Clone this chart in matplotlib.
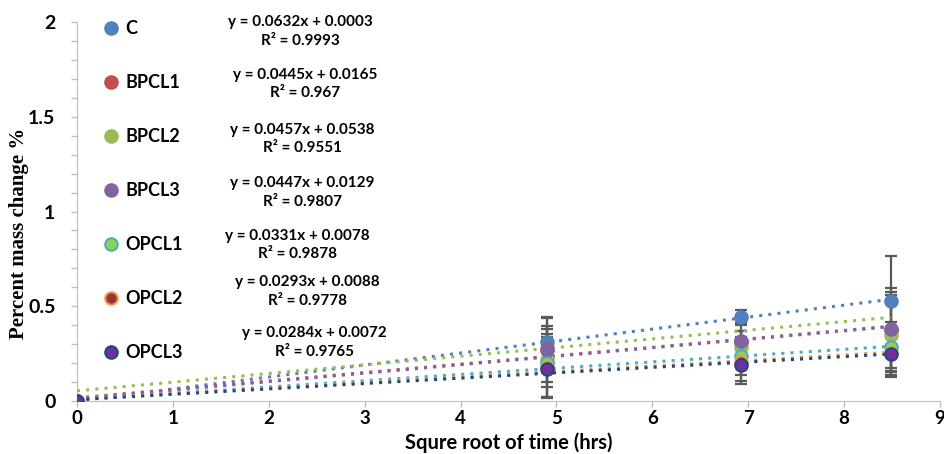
import numpy as np
import matplotlib.pyplot as plt
from matplotlib.lines import Line2D
from matplotlib.ticker import MultipleLocator, FuncFormatter

# sqrt of time (hrs)
x_vals = [0, 4.899, 6.928, 8.485]

labels = ["C", "BPCL1", "BPCL2", "BPCL3", "OPCL1", "OPCL2", "OPCL3"]

c_vals = [0, 0.312, 0.445, 0.530]
bpcl1_vals = [0, 0.275, 0.310, 0.375]
bpcl2_vals = [0, 0.216, 0.287, 0.348]
bpcl3_vals = [0, 0.268, 0.317, 0.378]
opcl1_vals = [0, 0.200, 0.237, 0.285]
opcl2_vals = [0, 0.180, 0.207, 0.255]
opcl3_vals = [0, 0.168, 0.190, 0.248]

c_err = [0, 0.13, 0.035, 0.235]
bpcl1_err = [0, 0.12, 0.09, 0.20]
bpcl2_err = [0, 0.14, 0.08, 0.21]
bpcl3_err = [0, 0.17, 0.05, 0.22]
opcl1_err = [0, 0.18, 0.10, 0.13]
opcl2_err = [0, 0.16, 0.10, 0.12]
opcl3_err = [0, 0.15, 0.10, 0.12]

# linear trendline coefficients shown on the chart
slopes = [0.0632, 0.0445, 0.0457, 0.0447, 0.0331, 0.0293, 0.0284]
intercepts = [0.0003, 0.0165, 0.0538, 0.0129, 0.0078, 0.0088, 0.0072]
r2_vals = ["0.9993", "0.967", "0.9551", "0.9807", "0.9878", "0.9778", "0.9765"]

series = [c_vals, bpcl1_vals, bpcl2_vals, bpcl3_vals, opcl1_vals, opcl2_vals, opcl3_vals]
errors = [c_err, bpcl1_err, bpcl2_err, bpcl3_err, opcl1_err, opcl2_err, opcl3_err]

face_colors = ["#4F81BD", "#C0504D", "#9BBB59", "#8064A2", "#92D050", "#953735", "#7030A0"]
edge_colors = ["#4F81BD", "#C0504D", "#9BBB59", "#8064A2", "#4BACC6", "#F79646", "#1F497D"]
line_colors = ["#4F81BD", "#C0504D", "#9BBB59", "#8064A2", "#4BACC6", "#F79646", "#1F497D"]

# label positions (data coords)
eq_x = [2.33, 2.38, 2.35, 2.35, 2.30, 2.40, 2.48]
eq_y = [1.950, 1.672, 1.382, 1.100, 0.822, 0.577, 0.308]

fig = plt.figure(figsize=(9.44, 4.54), dpi=100)
ax = fig.add_axes([0.0816, 0.1167, 0.9142, 0.8348])

font = "Lato"

for i in range(len(labels)):
    ax.errorbar(x_vals, series[i], yerr=errors[i], fmt="none", ecolor="#595959",
                elinewidth=1.6, capsize=4, capthick=1.6, zorder=2)

for i in range(len(labels)):
    xs = np.array([x_vals[0], x_vals[-1]])
    ax.plot(xs, slopes[i] * xs + intercepts[i], linestyle=(0, (1, 2)),
            color=line_colors[i], linewidth=2.2, zorder=3)

for i in range(len(labels)):
    ax.plot(x_vals, series[i], "o", markersize=9, markerfacecolor=face_colors[i],
            markeredgecolor=edge_colors[i], markeredgewidth=1.5, linestyle="none", zorder=4)

for i in range(len(labels)):
    eq = f"y = {slopes[i]:.4f}x + {intercepts[i]:.4f}\nR² = {r2_vals[i]}"
    ax.text(eq_x[i], eq_y[i], eq, ha="center", va="center", fontsize=11,
            fontweight="bold", family=font, linespacing=1.4)

handles = [Line2D([], [], marker="o", linestyle="none", markersize=9,
                  markerfacecolor=face_colors[i], markeredgecolor=edge_colors[i],
                  markeredgewidth=1.5) for i in range(len(labels))]
ax.legend(handles, labels, loc="upper left", bbox_to_anchor=(0.005, 1.048),
          frameon=False, labelspacing=2.05, handletextpad=0.05, handlelength=1.5,
          prop={"family": font, "weight": "bold", "size": 13})

ax.set_xlim(0, 9)
ax.set_ylim(0, 2)
ax.xaxis.set_major_locator(MultipleLocator(1))
ax.yaxis.set_major_locator(MultipleLocator(0.5))
ax.yaxis.set_minor_locator(MultipleLocator(0.1))
ax.yaxis.set_major_formatter(FuncFormatter(lambda v, p: f"{v:g}"))
ax.tick_params(axis="both", which="major", labelsize=14, colors="#000000",
               length=4.5, width=1, direction="out", color="#BFBFBF")
ax.tick_params(axis="y", which="minor", length=4, width=1, color="#BFBFBF")
ax.tick_params(axis="y", which="major", pad=11)
ax.tick_params(axis="x", which="major", labelsize=13.5, pad=2)
for lab in ax.get_xticklabels() + ax.get_yticklabels():
    lab.set_fontweight("bold")
    lab.set_family(font)

for side in ["top", "right"]:
    ax.spines[side].set_visible(False)
ax.spines["left"].set_color("#BFBFBF")
ax.spines["bottom"].set_color("#BFBFBF")

ax.set_xlabel("Squre root of time (hrs)", fontsize=14.5, fontweight="bold",
              family=font, va="bottom")
ax.xaxis.set_label_coords(0.5, -0.136)
ax.set_ylabel("Percent mass change %", fontsize=15, fontweight="bold",
              family="Liberation Serif")
ax.yaxis.set_label_coords(-0.056, 0.442)

fig.savefig("out.png", dpi=100)
